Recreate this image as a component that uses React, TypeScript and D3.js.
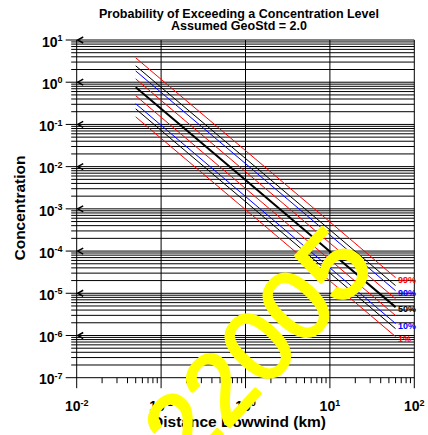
import React from 'react';
import * as d3 from 'd3';

const W = 428;
const H = 435;

// distances downwind (km)
const distances = [0.05, 0.1, 1, 10, 60];
// concentration per percentile
const p99 = [3.79, 1.17, 2.4e-2, 4.9e-4, 2.35e-5];
const p95 = [2.45, 0.758, 1.56e-2, 3.18e-4, 1.52e-5];
const p90 = [1.85, 0.573, 1.18e-2, 2.4e-4, 1.15e-5];
const p75 = [1.2, 0.37, 7.6e-3, 1.55e-4, 7.4e-6];
const p50 = [0.757, 0.234, 4.8e-3, 9.8e-5, 4.7e-6];
const p25 = [0.479, 0.148, 3.04e-3, 6.2e-5, 2.97e-6];
const p10 = [0.309, 0.0955, 1.96e-3, 4.0e-5, 1.92e-6];
const p05 = [0.234, 0.0722, 1.48e-3, 3.02e-5, 1.45e-6];
const p01 = [0.151, 0.0468, 9.6e-4, 1.96e-5, 9.4e-7];

const xDecades = [-2, -1, 0, 1, 2];
const yDecades = [-7, -6, -5, -4, -3, -2, -1, 0, 1];

const title1 = 'Probability of Exceeding a Concentration Level';
const title2 = 'Assumed GeoStd = 2.0';
const xTitle = 'Distance Dowwind (km)';
const yTitle = 'Concentration';
const watermark = '22005';

const series = [
  { values: p99, color: '#ff0000', w: 1, label: '99%' },
  { values: p95, color: '#000000', w: 1, label: '' },
  { values: p90, color: '#0000ff', w: 1, label: '90%' },
  { values: p75, color: '#ff0000', w: 1, label: '' },
  { values: p50, color: '#000000', w: 2, label: '50%' },
  { values: p25, color: '#ff0000', w: 1, label: '' },
  { values: p10, color: '#0000ff', w: 1, label: '10%' },
  { values: p05, color: '#000000', w: 1, label: '' },
  { values: p01, color: '#ff0000', w: 1, label: '1%' },
];

const FONT = '"Liberation Sans", Arial, Helvetica, sans-serif';

export default function App() {
  const x = d3.scaleLog().domain([1e-2, 1e2]).range([76.7, 414.3]);
  const y = d3.scaleLog().domain([1e-7, 1e1]).range([377.7, 40]);
  const [x0, x1] = x.range();
  const [y0, y1] = y.range();

  const minorY: number[] = [];
  for (let k = -7; k <= 0; k++) for (let m = 2; m <= 9; m++) minorY.push(m * Math.pow(10, k));
  const minorX: number[] = [];
  for (let k = -2; k <= 1; k++) for (let m = 2; m <= 9; m++) minorX.push(m * Math.pow(10, k));

  const line = d3
    .line<number>()
    .x((_, i) => x(distances[i]))
    .y((d) => y(d));

  return (
    <svg width={W} height={H} style={{ position: 'absolute', left: 0, top: 0, background: '#fff' }} fontFamily={FONT}>
      <rect width={W} height={H} fill="#fff" />
      {minorY.map((v, i) => (
        <line key={'hm' + i} x1={x0 - 5.5} x2={x1} y1={y(v)} y2={y(v)} stroke="#000" strokeWidth={1} />
      ))}
      {yDecades.map((k) => (
        <line key={'hd' + k} x1={x0 - 11} x2={x1} y1={y(Math.pow(10, k))} y2={y(Math.pow(10, k))} stroke="#000" strokeWidth={1} />
      ))}
      {xDecades.map((k) => (
        <line key={'vd' + k} x1={x(Math.pow(10, k))} x2={x(Math.pow(10, k))} y1={y1} y2={y0 + 10.5} stroke="#000" strokeWidth={1} />
      ))}
      {minorX.map((v, i) => (
        <line key={'xm' + i} x1={x(v)} x2={x(v)} y1={y0} y2={y0 + 5.5} stroke="#000" strokeWidth={1} />
      ))}
      {yDecades
        .filter((k) => k > -7)
        .map((k) => {
          const yy = y(Math.pow(10, k));
          return (
            <path key={'ar' + k} d={`M${x0 + 6.5},${yy - 3} L${x0 + 1},${yy} L${x0 + 6.5},${yy + 3}`} fill="none" stroke="#000" strokeWidth={1.5} />
          );
        })}
      {series.map((s, i) => (
        <path key={'s' + i} d={line(s.values) || ''} fill="none" stroke={s.color} strokeWidth={s.w} />
      ))}
      {series
        .filter((s) => s.label)
        .map((s, i) => (
          <text
            key={'lb' + i}
            x={x(distances[distances.length - 1]) + 2.5}
            y={y(s.values[s.values.length - 1]) + 5}
            fill={s.color}
            fontSize={9}
            fontWeight="bold"
          >
            {s.label}
          </text>
        ))}
      {yDecades.map((k) => (
        <text key={'yl' + k} x={62.5} y={y(Math.pow(10, k)) + 6.7} textAnchor="end" fontSize={14} fontWeight="bold">
          <tspan>10</tspan>
          <tspan dy={-5.5} fontSize={9}>
            {String(k)}
          </tspan>
        </text>
      ))}
      {xDecades.map((k) => (
        <text key={'xl' + k} x={x(Math.pow(10, k))} y={411} textAnchor="middle" fontSize={14} fontWeight="bold">
          <tspan>10</tspan>
          <tspan dy={-5.5} fontSize={9}>
            {String(k)}
          </tspan>
        </text>
      ))}
      <text x={239} y={17.5} textAnchor="middle" fontSize={12.5} fontWeight="bold">
        {title1}
      </text>
      <text x={239} y={30} textAnchor="middle" fontSize={12.5} fontWeight="bold">
        {title2}
      </text>
      <text x={239} y={427} textAnchor="middle" fontSize={15.5} fontWeight="bold">
        {xTitle}
      </text>
      <text transform={`translate(24.5,208) rotate(-90)`} textAnchor="middle" fontSize={15.5} fontWeight="bold">
        {yTitle}
      </text>
      <text
        transform={`translate(378,268) rotate(-47)`}
        textAnchor="end"
        fontSize={100}
        fill="#ffff00"
        stroke="#ffff00"
        strokeWidth={2.5}
        strokeLinejoin="round"
      >
        {watermark}
      </text>
    </svg>
  );
}
